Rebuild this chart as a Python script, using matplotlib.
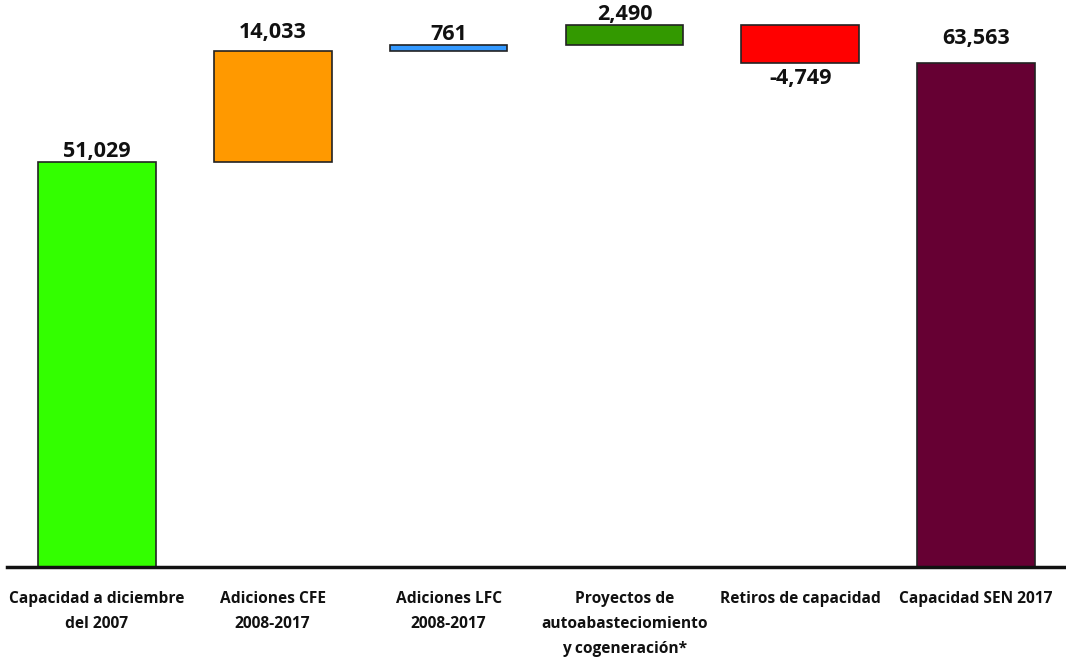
import matplotlib.pyplot as plt

# Data
categories = ['Capacidad a diciembre\ndel 2007', 'Adiciones CFE\n2008-2017',
              'Adiciones LFC\n2008-2017', 'Proyectos de\nautoabasteciomiento\ny cogeneración*',
              'Retiros de capacidad', 'Capacidad SEN 2017']
changes = [51029, 14033, 761, 2490, -4749]
total = 63563
colors = ['#33ff00', '#ff9900', '#3399ff', '#339900', '#ff0000', '#660033']

# Waterfall bottoms and heights
bottoms = []
heights = []
running = 0
for i, v in enumerate(changes):
    if i == 0:
        bottoms.append(0)
    else:
        bottoms.append(running)
    heights.append(v)
    running += v
bottoms.append(0)
heights.append(total)
values = changes + [total]

plt.rcParams['font.family'] = ['Open Sans', 'DejaVu Sans']
plt.rcParams['font.weight'] = 'bold'

fig = plt.figure(figsize=(10.66, 6.57), dpi=100)
ax = fig.add_axes([7 / 1066, 90 / 657, 1 - 7 / 1066, 567 / 657])

x = list(range(len(categories)))
ax.bar(x, heights, bottom=bottoms, width=0.67, color=colors,
       edgecolor='#222222', linewidth=1.2)

# Value labels (offsets in points)
label_offsets = [0, 6, 0, 0, -4, 10]
for xi, b, h, v, off in zip(x, bottoms, heights, values, label_offsets):
    va = 'bottom' if h >= 0 else 'top'
    ax.annotate(f'{v:,}', (xi, b + h), xytext=(0, off), textcoords='offset points',
                ha='center', va=va, fontsize=15.5, fontweight='bold', color='#111111')

ax.set_xlim(-0.511, 5.511)
ax.set_ylim(0, 71500)
ax.set_xticks(x)
ax.set_xticklabels(categories, fontsize=11.2, fontweight='bold', color='#111111', linespacing=1.75)
ax.tick_params(axis='x', length=0, pad=17)
ax.set_yticks([])
for s in ['top', 'right', 'left']:
    ax.spines[s].set_visible(False)
ax.spines['bottom'].set_linewidth(2.5)
ax.spines['bottom'].set_color('#111111')

fig.savefig('out.png', dpi=100)
